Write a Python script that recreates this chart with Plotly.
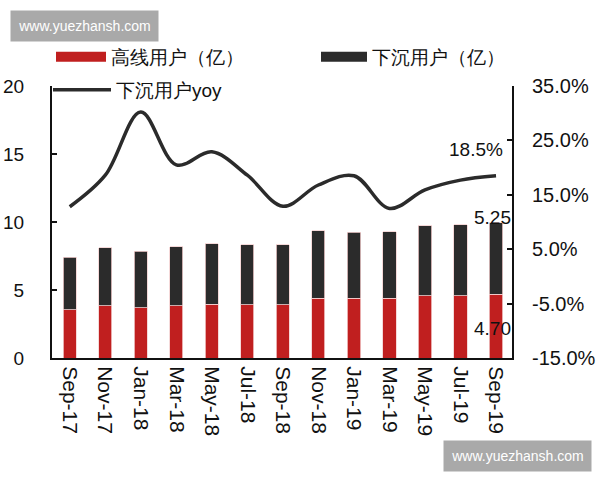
import plotly.graph_objects as go

months = ["Sep-17", "Nov-17", "Jan-18", "Mar-18", "May-18", "Jul-18", "Sep-18",
          "Nov-18", "Jan-19", "Mar-19", "May-19", "Jul-19", "Sep-19"]
high_users = [3.55, 3.85, 3.70, 3.85, 3.97, 3.90, 3.92, 4.39, 4.39, 4.39, 4.58, 4.58, 4.70]
low_users = [3.85, 4.24, 4.14, 4.34, 4.44, 4.41, 4.39, 4.95, 4.85, 4.90, 5.15, 5.20, 5.25]
low_yoy = [12.8, 18.6, 30.2, 20.5, 22.9, 18.6, 12.9, 16.8, 18.5, 12.5, 15.9, 17.7, 18.5]

RED = "#c01f1f"
DARK = "#2b2b2b"
FONT = "Liberation Sans, Arial, sans-serif"

# plot area in pixels
L, R, T, B = 52, 512, 86, 358
W_, H_ = 600, 480
def px(x):
    return (x - L) / (R - L)
def py(y):
    return (B - y) / (B - T)

fig = go.Figure()
fig.add_trace(go.Bar(x=months, y=high_users, name="高线用户（亿）", marker=dict(color=RED, line=dict(color="#f3d0d0", width=0.8)),
                     legendgroup="a", showlegend=False, yaxis="y"))
fig.add_trace(go.Bar(x=months, y=low_users, name="下沉用户（亿）", marker=dict(color=DARK, line=dict(color="#f3d0d0", width=0.8)),
                     legendgroup="b", showlegend=False, yaxis="y"))
# legend swatches (wide rectangles like the reference)
fig.add_trace(go.Scatter(x=[None], y=[None], mode="lines", name="高线用户（亿）", line=dict(color=RED, width=10),
                         legendgroup="a", legend="legend"))
fig.add_trace(go.Scatter(x=[None], y=[None], mode="lines", name="下沉用户（亿）", line=dict(color=DARK, width=10),
                         legendgroup="b", legend="legend2"))
fig.add_trace(go.Scatter(x=months, y=low_yoy, mode="lines", name="下沉用户yoy", yaxis="y2",
                         line=dict(color=DARK, width=3.5, shape="spline", smoothing=1.0), legend="legend3"))

# data labels
lab_font = dict(size=19, color="#111", family=FONT)
fig.add_annotation(x=months[-1], y=low_yoy[-1], xref="x", yref="y2", text=f"{low_yoy[-1]:.1f}%",
                   showarrow=False, xshift=-20, yshift=26, font=lab_font)
fig.add_annotation(x=months[-1], y=high_users[-1] + low_users[-1], xref="x", yref="y", text=f"{low_users[-1]:.2f}",
                   showarrow=False, xshift=-4, yshift=5, font=lab_font)
fig.add_annotation(x=months[-1], y=high_users[-1] / 2, xref="x", yref="y", text=f"{high_users[-1]:.2f}",
                   showarrow=False, xshift=-4, yshift=-2, font=lab_font)

# watermarks
fig.add_annotation(x=px(10), y=py(10), xref="paper", yref="paper", xanchor="left", yanchor="top",
                   text="www.yuezhansh.com", showarrow=False, bgcolor="#a9a9a9", width=143, height=26, borderpad=2,
                   font=dict(size=14, color="white", family=FONT))
fig.add_annotation(x=px(443), y=py(440), xref="paper", yref="paper", xanchor="left", yanchor="top",
                   text="www.yuezhansh.com", showarrow=False, bgcolor="#a9a9a9", width=143, height=26, borderpad=2,
                   font=dict(size=14, color="white", family=FONT))

leg_common = dict(orientation="h", xanchor="left", yanchor="middle", bgcolor="rgba(0,0,0,0)",
                  font=dict(size=19))

fig.update_layout(
    width=W_, height=H_,
    margin=dict(l=L, r=W_ - R, t=T, b=H_ - B, autoexpand=False),
    paper_bgcolor="white", plot_bgcolor="white",
    barmode="stack", bargap=0.63,
    font=dict(family=FONT, size=18, color="#111"),
    xaxis=dict(type="category", range=[-0.5, 12.45], tickangle=90, showline=True, linecolor="#111", linewidth=2,
               ticks="", showgrid=False, tickfont=dict(size=21), ticklabelstandoff=2, automargin=False),
    yaxis=dict(range=[0, 20], tickvals=[0, 5, 10, 15, 20], showline=True, linecolor="#111", linewidth=2,
               ticks="inside", ticklen=5, tickwidth=2, tickcolor="#111", showgrid=False, zeroline=False,
               tickfont=dict(size=19), ticklabelstandoff=22, automargin=False),
    yaxis2=dict(range=[-15, 35], tickvals=[-15, -5, 5, 15, 25, 35], ticktext=[f"{v:.1f}%" for v in [-15, -5, 5, 15, 25, 35]],
                overlaying="y", side="right", showline=True, linecolor="#111", linewidth=2,
                ticks="inside", ticklen=5, tickwidth=2, tickcolor="#111", showgrid=False, zeroline=False,
                tickfont=dict(size=20), ticklabelstandoff=14, automargin=False),
    legend=dict(x=px(51), y=py(57), itemwidth=50, **leg_common),
    legend2=dict(x=px(316), y=py(57), itemwidth=46, **leg_common),
    legend3=dict(x=px(48), y=py(90), itemwidth=58, **leg_common),
)

fig.write_html("out.html")
